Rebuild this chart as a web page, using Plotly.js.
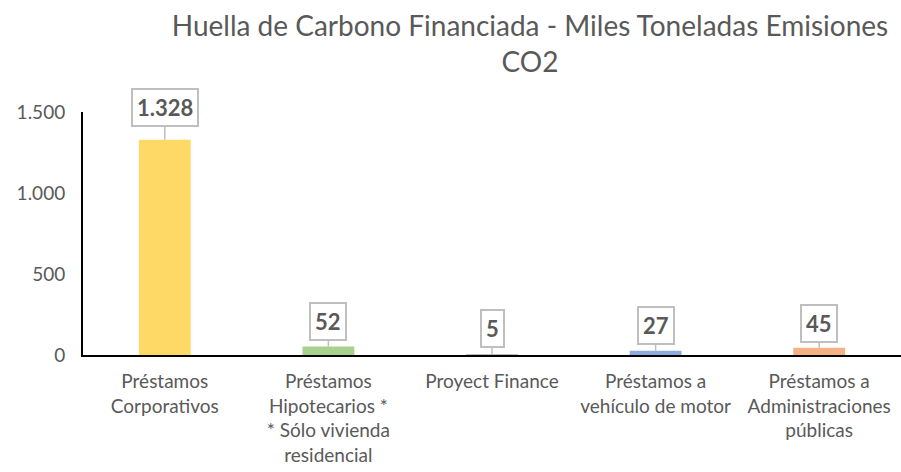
<!DOCTYPE html>
<html>
<head>
<meta charset="utf-8">
<script src="https://cdn.plot.ly/plotly-3.0.1.min.js"></script>
<style>html,body{margin:0;padding:0;background:#fff;}#chart{width:901px;height:472px;}</style>
</head>
<body>
<div id="chart"></div>
<script>
const categories = [
  "Préstamos<br>Corporativos",
  "Préstamos<br>Hipotecarios *<br>* Sólo vivienda<br>residencial",
  "Proyect Finance",
  "Préstamos a<br>vehículo de motor",
  "Préstamos a<br>Administraciones<br>públicas"
];
const values = [1328, 52, 5, 27, 45];
const valueLabels = ["1.328", "52", "5", "27", "45"];
const barColors = ["#FFD966", "#A9D18E", "#A5A5A5", "#8FAADC", "#F4B183"];
const labelOffsets = [-32, -25, -26, -25, -24];
const yTicks = [0, 500, 1000, 1500];
const yTickLabels = ["0", "500", "1.000", "1.500"];

const FONT = "Lato, 'Open Sans', sans-serif";

const annotations = categories.map((c, i) => ({
  x: c, y: values[i], xref: 'x', yref: 'y',
  text: '<b>' + valueLabels[i] + '</b>',
  showarrow: true, arrowhead: 0, arrowwidth: 1.5, arrowcolor: '#BFBFBF',
  ax: 0, ay: labelOffsets[i], standoff: 0,
  bgcolor: '#FFFFFF', bordercolor: '#BFBFBF', borderwidth: 2, borderpad: 4,
  font: {family: FONT, size: 22, color: '#595959'}
}));

Plotly.newPlot('chart', [{
  type: 'bar', x: categories, y: values,
  marker: {color: barColors},
  hoverinfo: 'none'
}], {
  width: 901, height: 472,
  margin: {l: 83, r: 0, t: 112, b: 117},
  paper_bgcolor: '#fff', plot_bgcolor: '#fff',
  bargap: 0.683,
  showlegend: false,
  font: {family: FONT, color: '#595959'},
  title: {
    text: 'Huella de Carbono Financiada - Miles Toneladas Emisiones<br>CO2',
    x: 530/901, xanchor: 'center', xref: 'container',
    y: 1 - 36/472, yanchor: 'middle', yref: 'container',
    font: {family: FONT, size: 28, color: '#595959'}
  },
  xaxis: {
    type: 'category', showline: true, linecolor: '#000', linewidth: 2,
    showgrid: false, ticks: '', ticklabelstandoff: 8,
    tickfont: {family: FONT, size: 19, color: '#595959'},
    fixedrange: true
  },
  yaxis: {
    range: [0, 1500], tickvals: yTicks, ticktext: yTickLabels,
    showline: true, linecolor: '#000', linewidth: 2, showgrid: false, zeroline: false,
    ticks: '', ticklen: 0, ticklabelstandoff: 12,
    tickfont: {family: FONT, size: 19, color: '#595959'},
    fixedrange: true
  },
  annotations: annotations
}, {displayModeBar: false, staticPlot: true});
</script>
</body>
</html>
